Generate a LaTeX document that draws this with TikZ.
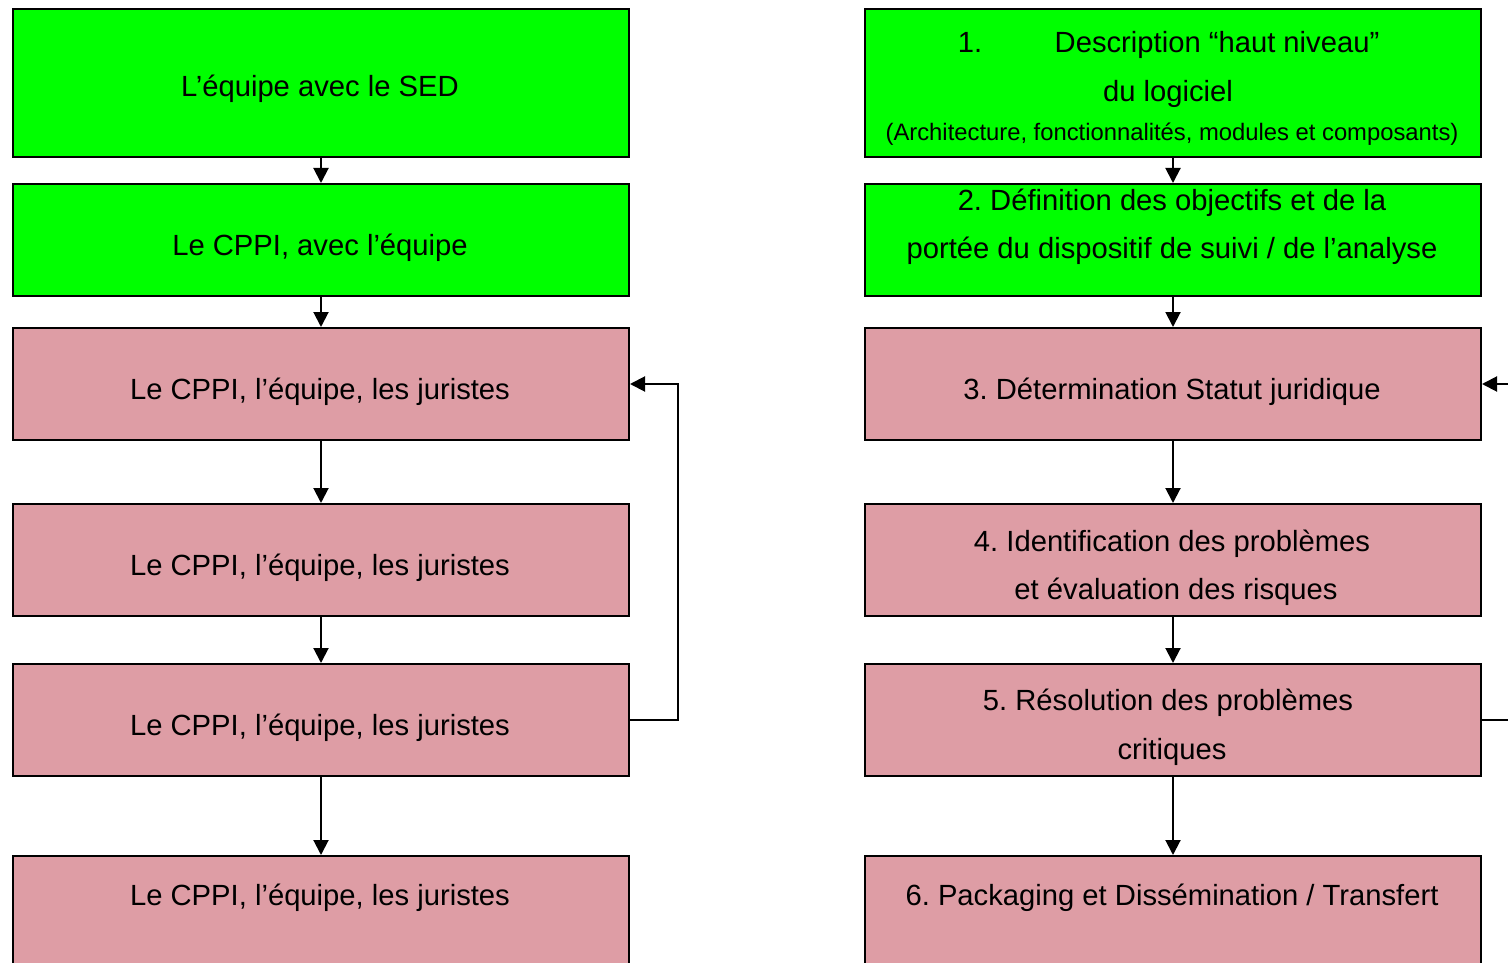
\documentclass[tikz,border=0pt]{standalone}
\usepackage{fontspec}
\setmainfont{Liberation Sans}
\usetikzlibrary{arrows.meta}
\frenchspacing
\definecolor{stepgreen}{RGB}{0,255,0}
\definecolor{steppink}{RGB}{222,157,165}
\tikzset{
  stepbox/.style={draw=black, line width=2pt, rectangle, anchor=north west,
    minimum width=616pt, minimum height=112pt, inner sep=0pt},
  greenbox/.style={stepbox, fill=stepgreen},
  pinkbox/.style={stepbox, fill=steppink},
  txt/.style={anchor=base, inner sep=0pt, font=\fontsize{29.2}{35}\selectfont},
  smalltxt/.style={anchor=base, inner sep=0pt, font=\fontsize{23.8}{29}\selectfont},
  flow/.style={draw=black, line width=2pt,
    -{Triangle[length=15pt,width=15pt]}}
}
\begin{document}
\begin{tikzpicture}[x=1pt,y=-1pt]
\clip (0,0) rectangle (1508,963);
\fill[white] (0,0) rectangle (1508,963);

% left column
\node[greenbox, minimum height=148pt] (l1) at (12,8) {};
\node[greenbox] (l2) at (12,183) {};
\node[pinkbox] (l3) at (12,327) {};
\node[pinkbox] (l4) at (12,503) {};
\node[pinkbox] (l5) at (12,663) {};
\node[pinkbox, minimum height=130pt] (l6) at (12,855) {};

\node[txt] (lt1) at (320,97) {L’équipe avec le SED};
\node[txt] (lt2) at (320,255) {Le CPPI, avec l’équipe};
\node[txt] (lt3) at (320,399) {Le CPPI, l’équipe, les juristes};
\node[txt] (lt4) at (320,575) {Le CPPI, l’équipe, les juristes};
\node[txt] (lt5) at (320,735) {Le CPPI, l’équipe, les juristes};
\node[txt] (lt6) at (320,905) {Le CPPI, l’équipe, les juristes};

\draw[flow] (l1.south) -- (l2.north);
\draw[flow] (l2.south) -- (l3.north);
\draw[flow] (l3.south) -- (l4.north);
\draw[flow] (l4.south) -- (l5.north);
\draw[flow] (l5.south) -- (l6.north);

% feedback from step 5 back to step 3
\draw[flow] (l5.east) -- ++(48,0) |- (l3.east);

% right column
\node[greenbox, minimum height=148pt] (r1) at (864,8) {};
\node[greenbox] (r2) at (864,183) {};
\node[pinkbox] (r3) at (864,327) {};
\node[pinkbox] (r4) at (864,503) {};
\node[pinkbox] (r5) at (864,663) {};
\node[pinkbox, minimum height=130pt] (r6) at (864,855) {};

\node[txt] (rt1n) at (970,53) {1.};
\node[txt] (rt1a) at (1217,53) {Description “haut niveau”};
\node[txt] (rt1b) at (1168,102) {du logiciel};
\node[smalltxt] (rt1c) at (1172,141) {(Architecture, fonctionnalités, modules et composants)};
\node[txt] (rt2a) at (1172,210) {2. Définition des objectifs et de la};
\node[txt] (rt2b) at (1172,258) {portée du dispositif de suivi / de l’analyse};
\node[txt] (rt3) at (1172,399) {3. Détermination Statut juridique};
\node[txt] (rt4a) at (1172,551) {4. Identification des problèmes};
\node[txt] (rt4b) at (1176,599) {et évaluation des risques};
\node[txt] (rt5a) at (1168,710) {5. Résolution des problèmes};
\node[txt] (rt5b) at (1172,759) {critiques};
\node[txt] (rt6) at (1172,905) {6. Packaging et Dissémination / Transfert};

\draw[flow] (r1.south) -- (r2.north);
\draw[flow] (r2.south) -- (r3.north);
\draw[flow] (r3.south) -- (r4.north);
\draw[flow] (r4.south) -- (r5.north);
\draw[flow] (r5.south) -- (r6.north);

% feedback from step 5 back to step 3
\draw[flow] (r5.east) -- ++(48,0) |- (r3.east);
\end{tikzpicture}
\end{document}
